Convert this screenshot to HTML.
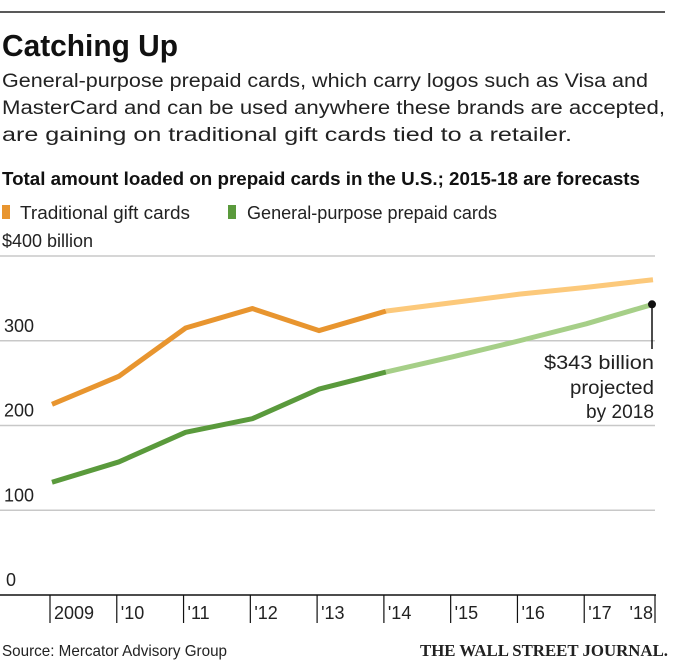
<!DOCTYPE html>
<html><head><meta charset="utf-8"><style>
html,body{margin:0;padding:0;background:#fff;width:700px;height:662px;overflow:hidden}
svg{display:block;font-family:"Liberation Sans",sans-serif}
</style></head><body>
<svg id="c" width="700" height="662" xmlns="http://www.w3.org/2000/svg">
<line x1="0" y1="12" x2="665" y2="12" stroke="#222" stroke-width="1.5"/>
<text x="2" y="56" font-size="31" font-weight="bold" fill="#111" textLength="176" lengthAdjust="spacingAndGlyphs">Catching Up</text>
<g font-size="19" fill="#222">
<text x="2" y="87" textLength="646" lengthAdjust="spacingAndGlyphs">General-purpose prepaid cards, which carry logos such as Visa and</text>
<text x="2" y="114" textLength="663" lengthAdjust="spacingAndGlyphs">MasterCard and can be used anywhere these brands are accepted,</text>
<text x="2" y="141" textLength="570" lengthAdjust="spacingAndGlyphs">are gaining on traditional gift cards tied to a retailer.</text>
</g>
<text x="2" y="185" font-size="18" font-weight="bold" fill="#111" textLength="638" lengthAdjust="spacingAndGlyphs">Total amount loaded on prepaid cards in the U.S.; 2015-18 are forecasts</text>
<rect x="2" y="205" width="8" height="14" fill="#e8952f"/>
<text x="20" y="219" font-size="18" fill="#222" textLength="170" lengthAdjust="spacingAndGlyphs">Traditional gift cards</text>
<rect x="228" y="205" width="8" height="14" fill="#5a9a3c"/>
<text x="247" y="219" font-size="18" fill="#222" textLength="250" lengthAdjust="spacingAndGlyphs">General-purpose prepaid cards</text>
<g id="grid"></g>
<g id="series"></g>
<g id="xaxis"></g>
<g>
<line id="annLine" x1="652" x2="652" stroke="#111" stroke-width="1.5"/>
<circle id="annDot" cx="652" r="4" fill="#111"/>
<g font-size="19" fill="#222" text-anchor="end">
<text x="654" y="369" textLength="110" lengthAdjust="spacingAndGlyphs">$343 billion</text>
<text x="654" y="394" textLength="84" lengthAdjust="spacingAndGlyphs">projected</text>
<text x="654" y="418" textLength="68" lengthAdjust="spacingAndGlyphs">by 2018</text>
</g></g>
<text x="2" y="656" font-size="16" fill="#222" textLength="225" lengthAdjust="spacingAndGlyphs">Source: Mercator Advisory Group</text>
<text x="668" y="656" font-size="17" font-weight="bold" fill="#222" text-anchor="end" font-family="Liberation Serif,serif" textLength="248" lengthAdjust="spacingAndGlyphs">THE WALL STREET JOURNAL.</text>
</svg>
<script>
const years = ["2009","'10","'11","'12","'13","'14","'15","'16","'17","'18"];
const traditional = [225,258,315,338,312,335,345,355,363,372];
const general = [133,157,192,208,243,263,281,300,320,343];
const yTicks = [0,100,200,300,400];
const yTickLabels = ["0","100","200","300","$400 billion"];
const forecastStart = 5;

const NS="http://www.w3.org/2000/svg";
const x0=52, x1=653, y0=595, y400=256;
const xs=i=>x0+(x1-x0)*i/(years.length-1);
const ys=v=>y0+(y400-y0)*v/400;
function mk(t,a,p){const e=document.createElementNS(NS,t);for(const k in a)e.setAttribute(k,a[k]);p.appendChild(e);return e;}
const grid=document.getElementById('grid');
yTicks.forEach((v,i)=>{
  if(v>0){const l=mk('line',{x1:0,x2:655,y1:ys(v),y2:ys(v),stroke:'#c8c8c8','stroke-width':1.5},grid);
  
  }
  const t=mk('text',{x:v==0?6:(v==400?2:4),y:ys(v)-9,'font-size':18,fill:'#222'},grid);
  t.textContent=yTickLabels[i];
  
  
});
const xa=document.getElementById('xaxis');
const base=mk('line',{x1:0,x2:656,y1:y0,y2:y0,stroke:'#111','stroke-width':1.5},xa);


years.forEach((y,i)=>{
  const x=(i==years.length-1)?655:xs(i)-2;
  const tk=mk('line',{x1:x,x2:x,y1:y0,y2:623,stroke:'#111','stroke-width':1.2},xa);
  
  
  const t=mk('text',{x:i==years.length-1?653:x+4,y:619,'font-size':18,fill:'#222','text-anchor':i==years.length-1?'end':'start'},xa);
  t.textContent=y;
  
  
});
const sg=document.getElementById('series');
function draw(vals,c1,c2,name){
  const pts=vals.map((v,i)=>xs(i)+','+ys(v));
  const f=mk('polyline',{points:pts.slice(forecastStart).join(' '),fill:'none',stroke:c2,'stroke-width':5,'stroke-linejoin':'round'},sg);
  
  
  const a=mk('polyline',{points:pts.slice(0,forecastStart+1).join(' '),fill:'none',stroke:c1,'stroke-width':5,'stroke-linejoin':'round'},sg);
  
  
}
draw(traditional,'#e8952f','#fcc97b','traditional');
draw(general,'#5a9a3c','#a6cf88','general');
const last=general[general.length-1];
document.getElementById('annDot').setAttribute('cy',ys(last));
document.getElementById('annLine').setAttribute('y1',ys(last));
document.getElementById('annLine').setAttribute('y2',349);
</script>
</body></html>
